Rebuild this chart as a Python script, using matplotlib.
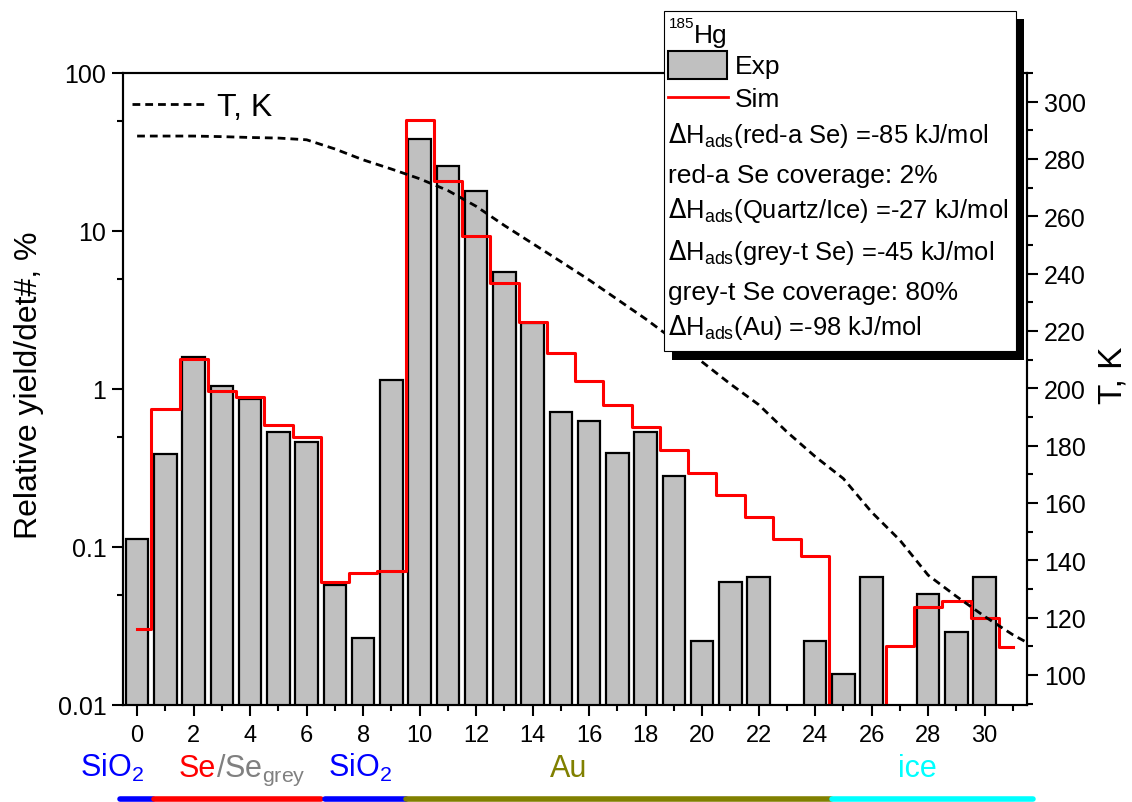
import numpy as np
import matplotlib
matplotlib.use("Agg")
import matplotlib.pyplot as plt
import matplotlib.transforms as mtransforms
from matplotlib.patches import Rectangle
from matplotlib.lines import Line2D
from matplotlib.ticker import FixedLocator, FixedFormatter, MultipleLocator, NullFormatter

plt.rcParams['font.family'] = ['Liberation Sans', 'DejaVu Sans']

# detector numbers and measured / simulated relative yields (%)
det = list(range(31))
exp_yield = [0.112, 0.388, 1.6, 1.045, 0.865, 0.532, 0.464, 0.0575, 0.0267, 1.145,
             38.2, 25.7, 17.9, 5.5, 2.61, 0.713, 0.627, 0.394, 0.532, 0.280,
             0.0255, 0.0603, 0.0649, np.nan, 0.0255, 0.0157, 0.0649, np.nan, 0.0506, 0.0288, 0.0649]

sim_det = list(range(32))
sim_yield = [0.0303, 0.743, 1.55, 0.967, 0.886, 0.594, 0.499, 0.0598, 0.068, 0.0705,
             50.6, 20.8, 9.25, 4.71, 2.67, 1.68, 1.13, 0.792, 0.572, 0.413,
             0.295, 0.214, 0.154, 0.113, 0.0873, 0.001, 0.001, 0.0235, 0.0415, 0.0455, 0.0355, 0.0232]

# temperature profile along the detector array (K)
temp_pos = list(range(32)) + [31.5]
temp_K = [288, 288, 288, 287.8, 287.5, 287.3, 286.7, 283.5, 279.7, 276.5,
          273.1, 269.0, 263.5, 256.8, 250.5, 244.2, 237.8, 231.0, 224.2, 216.9,
          209.2, 201.5, 194.3, 184.8, 176.2, 168.5, 156.8, 147.0, 134.8, 127.4,
          120.4, 114.0, 111.3]

y_ticks = [0.01, 0.1, 1, 10, 100]
y_ticklabels = ['0.01', '0.1', '1', '10', '100']
y_minor = [0.05, 0.5, 5, 50]

# surface segments below the axis: (label, start, end, colour)
surfaces = [('SiO2', -0.62, 0.55, '#0000ff'),
            ('Se', 0.58, 6.5, '#ff0000'),
            ('SiO2', 6.65, 9.5, '#0000ff'),
            ('Au', 9.53, 24.55, '#808000'),
            ('ice', 24.6, 31.7, '#00ffff')]

legend_lines = [r'$\Delta$H$_\mathregular{ads}$(red-a Se) =-85 kJ/mol',
                'red-a Se coverage: 2%',
                r'$\Delta$H$_\mathregular{ads}$(Quartz/Ice) =-27 kJ/mol',
                r'$\Delta$H$_\mathregular{ads}$(grey-t Se) =-45 kJ/mol',
                'grey-t Se coverage: 80%',
                r'$\Delta$H$_\mathregular{ads}$(Au) =-98 kJ/mol']

W, H = 1132, 803
fig = plt.figure(figsize=(W / 100, H / 100), dpi=100)
fx = lambda px: px / W
fy = lambda py: 1 - py / H

ax = fig.add_axes([fx(123), fy(706), (1027 - 123) / W, (706 - 74) / H])
ax.set_yscale('log')
ax.bar(det, exp_yield, width=0.8, color='#c0c0c0', edgecolor='black', linewidth=1.6, zorder=2)
ax.plot(sim_det, sim_yield, drawstyle='steps-mid', color='#ff0000', lw=2.2, zorder=3)
ax.set_xlim(-0.5, 31.5)
ax.set_ylim(0.01, 100)

ax.yaxis.set_major_locator(FixedLocator(y_ticks))
ax.yaxis.set_major_formatter(FixedFormatter(y_ticklabels))
ax.yaxis.set_minor_locator(FixedLocator(y_minor))
ax.yaxis.set_minor_formatter(NullFormatter())
ax.set_xticks(range(0, 31, 2))
ax.set_xticks(range(0, 32), minor=True)
ax.tick_params(which='major', direction='out', length=8, width=1.5, labelsize=17, pad=4)
ax.tick_params(axis='y', which='major', labelsize=18)
ax.tick_params(which='minor', direction='out', length=4.5, width=1.5)
ax.tick_params(axis='x', which='major', pad=6)
for s in ax.spines.values():
    s.set_linewidth(1.5)
ax.set_ylabel('Relative yield/det#, %', fontsize=23)
ax.yaxis.set_label_coords(-0.087, 0.508)

ax2 = ax.twinx()
ax2.plot(temp_pos, temp_K, color='black', lw=2, linestyle=(0, (2.8, 1.8)))
ax2.set_ylim(89.5, 310)
ax2.set_yticks(range(100, 301, 20))
ax2.yaxis.set_minor_locator(MultipleLocator(10))
ax2.tick_params(which='major', direction='out', length=8, width=1.5, labelsize=18, pad=4)
ax2.tick_params(which='minor', direction='out', length=4.5, width=1.5)
for s in ax2.spines.values():
    s.set_linewidth(1.5)
ax2.set_ylabel('T, K', fontsize=24)
ax2.yaxis.set_label_coords(1.078, 0.524)
ax2.legend(handles=[Line2D([], [], color='black', lw=2, linestyle=(0, (2.8, 1.8)))],
           labels=['T, K'], loc='upper left', bbox_to_anchor=(0.01, 0.97),
           frameon=False, fontsize=23, handlelength=2.35, handletextpad=0.3,
           borderpad=0, borderaxespad=0)

# surface labels and bars below the axis
trans = mtransforms.blended_transform_factory(ax.transData, ax.transAxes)
label_y = (706 - 777) / 632
bar_y = (706 - 800) / 632
for name, x0, x1, col in surfaces:
    ax.plot([x0, x1], [bar_y, bar_y], color=col, lw=4, solid_capstyle='round',
            transform=trans, clip_on=False)
ax.text(-0.88, label_y, r'SiO$_\mathregular{2}$', color='#0000ff', fontsize=22,
        ha='center', va='baseline', transform=trans)
ax.text(7.88, label_y, r'SiO$_\mathregular{2}$', color='#0000ff', fontsize=22,
        ha='center', va='baseline', transform=trans)
ax.text(15.27, label_y, 'Au', color='#808000', fontsize=22, ha='center', va='baseline', transform=trans)
ax.text(27.63, label_y, 'ice', color='#00ffff', fontsize=22, ha='center', va='baseline', transform=trans)
t_se = ax.text(1.47, label_y, 'Se', color='#ff0000', fontsize=22, ha='left', va='baseline', transform=trans)

# legend box with shadow
fig.patches.append(Rectangle((fx(672), fy(361)), (1024 - 672) / W, (361 - 20) / H,
                             transform=fig.transFigure, facecolor='black', edgecolor='none', zorder=9))
fig.patches.append(Rectangle((fx(664), fy(352)), (1016 - 664) / W, (352 - 11.5) / H,
                             transform=fig.transFigure, facecolor='white', edgecolor='black',
                             lw=0.8, zorder=10))
fig.text(fx(669), fy(28.5), '185', fontsize=11, ha='left', va='baseline', zorder=11)
fig.text(fx(694), fy(43.3), 'Hg', fontsize=19, ha='left', va='baseline', zorder=11)
fig.patches.append(Rectangle((fx(668), fy(80)), (727 - 668) / W, (80 - 52) / H,
                             transform=fig.transFigure, facecolor='#c0c0c0', edgecolor='black',
                             lw=1.5, zorder=11))
fig.text(fx(735), fy(74), 'Exp', fontsize=19, ha='left', va='baseline', zorder=11)
fig.lines.append(Line2D([fx(668), fx(728)], [fy(98), fy(98)], transform=fig.transFigure,
                        color='#ff0000', lw=2, zorder=11))
fig.text(fx(735), fy(106.7), 'Sim', fontsize=19, ha='left', va='baseline', zorder=11)
baselines = [142.7, 182.7, 218.3, 260, 300, 335]
for txt, b in zip(legend_lines, baselines):
    size = 18.4 if '$' in txt else 19
    fig.text(fx(668), fy(b), txt, fontsize=size, ha='left', va='baseline', zorder=11)

fig.canvas.draw()
bb = t_se.get_window_extent()
fig.text(bb.x1 / W, fy(777), r'/Se$_\mathregular{grey}$', color='#808080', fontsize=22,
         ha='left', va='baseline')

fig.savefig('out.png', dpi=100)
